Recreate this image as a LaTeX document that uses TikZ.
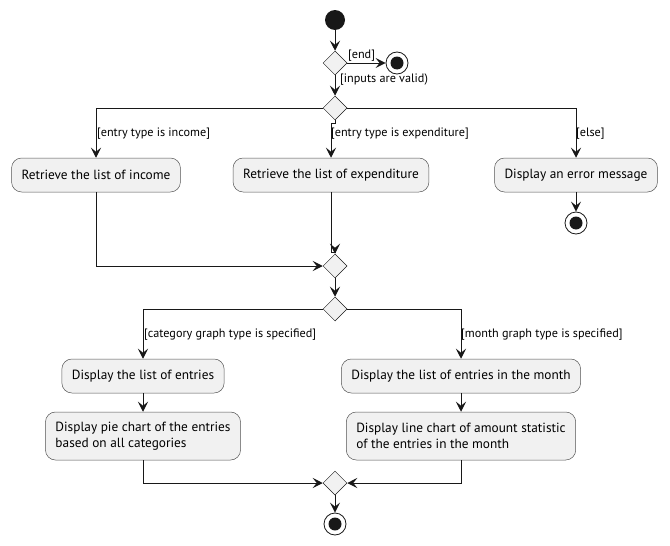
\documentclass[tikz,border=0pt]{standalone}
\usepackage{fontspec}
\setmainfont{PT Sans}
\usetikzlibrary{shapes.geometric, arrows.meta}
\definecolor{umlfill}{HTML}{F1F1F1}
\definecolor{umlline}{HTML}{181818}
\tikzstyle{action} = [rectangle, rounded corners=10pt, minimum height=34pt, inner xsep=10pt, align=left, draw=umlline!75, line width=0.5pt, fill=umlfill, font=\fontsize{13.3}{15.5}\selectfont]
\tikzstyle{branch} = [diamond, minimum size=24pt, inner sep=0, draw=umlline, line width=0.5pt, fill=umlfill]
\tikzstyle{guard} = [anchor=west, inner sep=1pt, font=\fontsize{12.2}{14}\selectfont]
\tikzstyle{initial} = [circle, minimum size=20pt, inner sep=0, fill=umlline]
\tikzstyle{final} = [circle, minimum size=22pt, inner sep=0, draw=umlline, line width=0.8pt, fill=white, path picture={\fill[umlline] (path picture bounding box.center) circle (6.5pt);}]
\tikzstyle{arrow} = [line width=1pt, draw=umlline, -{Stealth[length=10pt, width=10pt, inset=4pt]}]

\begin{document}
\begin{tikzpicture}[x=1pt, y=-1pt]
	\useasboundingbox (0,0) rectangle (670,546);
	\node[initial] (start) at (335,20) {};
	\node[branch] (chkValid) at (335,63) {};
	\node[final] (stopEnd) at (397,63) {};
	\node[branch] (chkType) at (335,108) {};
	\node[action] (getIncome) at (96,175) {Retrieve the list of income};
	\node[action] (getExpense) at (331,175) {Retrieve the list of expenditure};
	\node[action] (showError) at (576,175) {Display an error message};
	\node[final] (stopError) at (576,223) {};
	\node[branch] (mergeType) at (335,266) {};
	\node[branch] (chkGraph) at (335,309) {};
	\node[action] (listAll) at (143,376) {Display the list of entries};
	\node[action] (listMonth) at (461,376) {Display the list of entries in the month};
	\node[action, minimum height=48pt] (pieChart) at (143,436) {Display pie chart of the entries\\based on all categories};
	\node[action, minimum height=48pt] (lineChart) at (461,436) {Display line chart of amount statistic\\of the entries in the month};
	\node[branch] (mergeGraph) at (335,483) {};
	\node[final] (stopDone) at (335,524) {};
	% guards
	\node[guard, anchor=south west] (gEnd) at (347,63) {[end]};
	\node[guard] (gValid) at (339,80) {[inputs are valid)};
	\node[guard] (gIncome) at (96,134) {[entry type is income]};
	\node[guard] (gExpense) at (330,134) {[entry type is expenditure]};
	\node[guard] (gElse) at (575,134) {[else]};
	\node[guard] (gCategory) at (143,335) {[category graph type is specified]};
	\node[guard] (gMonth) at (460,335) {[month graph type is specified]};
	% flows
	\draw[arrow] (start) -- (chkValid);
	\draw[arrow] (chkValid) -- (stopEnd);
	\draw[arrow] (chkValid) -- (chkType);
	\draw[arrow] (chkType.west) -| (getIncome.north);
	\draw[arrow] (chkType.south) -- ++(0,3) -| (getExpense.north);
	\draw[arrow] (chkType.east) -| (showError.north);
	\draw[arrow] (showError) -- (stopError);
	\draw[arrow] (getIncome.south) |- (mergeType.west);
	\draw[arrow] (getExpense.south) -- ++(0,60) -| (mergeType.north);
	\draw[arrow] (mergeType) -- (chkGraph);
	\draw[arrow] (chkGraph.west) -| (listAll.north);
	\draw[arrow] (chkGraph.east) -| (listMonth.north);
	\draw[arrow] (listAll) -- (pieChart);
	\draw[arrow] (listMonth) -- (lineChart);
	\draw[arrow] (pieChart.south) |- (mergeGraph.west);
	\draw[arrow] (lineChart.south) |- (mergeGraph.east);
	\draw[arrow] (mergeGraph) -- (stopDone);
\end{tikzpicture}
\end{document}
